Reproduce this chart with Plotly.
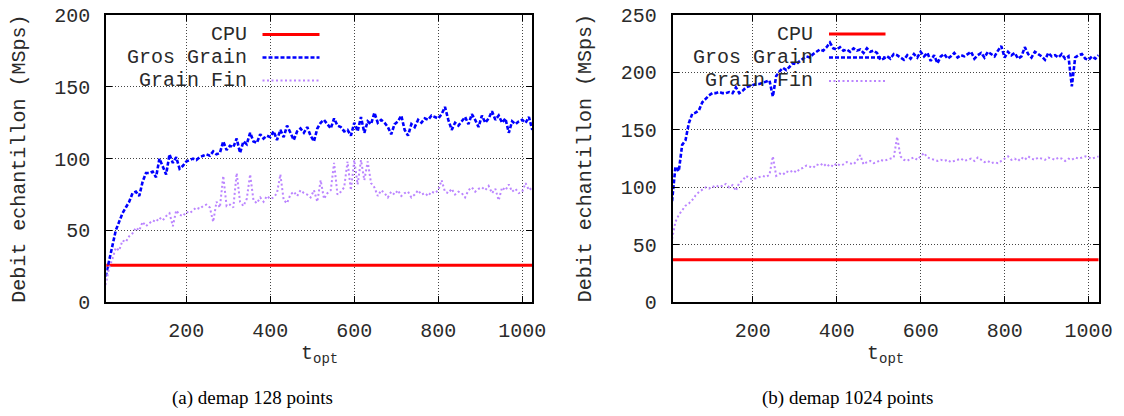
import plotly.graph_objects as go

# ---------------- data ----------------
t_step = 8  # t_opt sampled every 8, starting at 8

cpu_128 = 25.8
cpu_1024 = 37.0

gros_128 = [
    18, 28, 40, 50, 56, 62, 66, 70, 76, 77, 74, 84, 90, 90, 91, 87,
    100, 95, 89, 103, 97, 101, 93, 95, 98, 99, 100, 99, 101, 102, 103, 102,
    105, 103, 104, 112, 106, 109, 108, 114, 104, 112, 110, 118, 112, 111, 117, 114,
    116, 115, 119, 113, 120, 115, 123, 118, 113, 119, 121, 118, 122, 116, 112, 121,
    125, 127, 124, 121, 128, 123, 122, 119, 120, 116, 125, 119, 129, 118, 126, 124,
    132, 125, 127, 125, 122, 117, 124, 126, 130, 120, 116, 124, 122, 127, 125, 128,
    127, 130, 129, 128, 131, 136, 127, 120, 125, 123, 126, 129, 124, 131, 127, 122,
    130, 125, 128, 133, 127, 130, 125, 128, 118, 126, 124, 126, 127, 125, 129, 120,
]
fin_128 = [
    12, 24, 30, 38, 36, 43, 42, 46, 48, 52, 50, 56, 53, 55, 57, 56,
    59, 57, 60, 62, 53, 64, 61, 60, 63, 62, 64, 66, 65, 67, 68, 66,
    56, 70, 66, 88, 67, 68, 66, 90, 70, 67, 72, 89, 71, 69, 73, 70,
    74, 72, 73, 76, 89, 71, 69, 75, 77, 74, 78, 76, 75, 73, 78, 70,
    85, 72, 76, 78, 97, 75, 77, 80, 98, 78, 99, 82, 99, 85, 98, 83,
    80, 74, 78, 76, 73, 77, 75, 78, 74, 76, 77, 73, 75, 78, 75, 76,
    74, 77, 76, 78, 85, 77, 76, 79, 75, 77, 76, 73, 78, 80, 77, 79,
    80, 78, 81, 76, 79, 71, 80, 78, 82, 77, 79, 76, 77, 83, 78, 80,
]
gros_1024 = [
    88, 118, 114, 137, 141, 156, 164, 165, 167, 174, 177, 180, 182, 182, 183, 182,
    182, 183, 182, 187, 182, 184, 187, 188, 189, 190, 190, 191, 192, 193, 179, 197,
    201, 204, 202, 205, 208, 207, 210, 212, 214, 213, 216, 218, 220, 219, 222, 226,
    221, 220, 222, 219, 220, 218, 221, 219, 220, 217, 221, 218, 219, 217, 211, 212,
    214, 212, 216, 215, 213, 211, 215, 212, 216, 213, 218, 214, 217, 210, 215, 208,
    214, 216, 212, 214, 217, 213, 215, 214, 216, 218, 212, 215, 217, 213, 218, 216,
    214, 219, 223, 213, 218, 215, 217, 212, 214, 222, 216, 213, 218, 216, 214, 211,
    217, 214, 215, 213, 216, 212, 214, 188, 213, 215, 216, 212, 211, 214, 212, 215,
]
fin_1024 = [
    55, 70, 76, 80, 84, 86, 89, 93, 96, 98, 100, 99, 101, 100, 102, 101,
    103, 100, 102, 97, 104, 106, 110, 108, 107, 108, 109, 110, 109, 111, 127, 110,
    112, 111, 114, 113, 115, 113, 116, 117, 119, 118, 117, 120, 119, 121, 118, 120,
    118, 121, 119, 120, 122, 121, 120, 123, 128, 120, 122, 123, 121, 122, 124, 123,
    124, 125, 126, 144, 127, 124, 123, 125, 126, 124, 127, 130, 126, 125, 124, 123,
    124, 123, 124, 122, 123, 124, 125, 123, 124, 125, 123, 126, 124, 122, 123, 121,
    122, 121, 123, 125, 127, 124, 125, 123, 126, 124, 127, 125, 124, 126, 125, 124,
    126, 125, 124, 126, 125, 123, 125, 124, 126, 125, 126, 127, 126, 125, 126, 127,
]

series_names = ["CPU", "Gros Grain", "Grain Fin"]
x_ticks = [200, 400, 600, 800, 1000]
y_ticks_a = [0, 50, 100, 150, 200]
y_ticks_b = [0, 50, 100, 150, 200, 250]
captions = ["(a) demap 128 points", "(b) demap 1024 points"]
y_title = "Debit echantillon (MSps)"

t_opt = [t_step * (i + 1) for i in range(len(gros_128))]

# ---------------- style ----------------
W, H = 1124, 416
MONO = "Liberation Mono"
SERIF = "Liberation Serif"
TXT = "#2a2a2a"
RED, BLUE, PURPLE = "#ff0000", "#0000ff", "#bb85ff"
styles = [
    dict(color=RED, width=3),
    dict(color=BLUE, width=2.6, dash="4px,2px"),
    dict(color=PURPLE, width=2, dash="2px,2.5px"),
]


def px(x):
    return x / W


def py(y):
    return 1 - y / H


fig = go.Figure()
panels = [
    ("x", "y", cpu_128, gros_128, fin_128),
    ("x2", "y2", cpu_1024, gros_1024, fin_1024),
]
for xa, ya, cpu, gros, fin in panels:
    for name, vals, st in zip(series_names, [[cpu] * len(t_opt), gros, fin], styles):
        fig.add_trace(go.Scatter(x=t_opt, y=vals, mode="lines", name=name,
                                 line=st, xaxis=xa, yaxis=ya, showlegend=False))

axis_common = dict(
    showline=True, linecolor="black", linewidth=2, mirror="allticks",
    ticks="inside", ticklen=6, tickwidth=1.3, tickcolor="black",
    showgrid=True, gridcolor="#444", griddash="1px,2px", gridwidth=1,
    zeroline=False, automargin=False, tickfont=dict(family=MONO, size=20, color=TXT),
)

top, bottom = 15, 302.3
ydom = [py(bottom), py(top)]
xdom_a = [px(106.3), px(532.3)]
xdom_b = [px(672.7), px(1098.7)]
xrange = [9.5, 1024]

fig.update_layout(
    width=W, height=H, margin=dict(l=0, r=0, t=0, b=0, autoexpand=False),
    paper_bgcolor="white", plot_bgcolor="white",
    xaxis=dict(domain=xdom_a, range=xrange, tickvals=x_ticks, anchor="y",
               ticklabelstandoff=9, **axis_common),
    yaxis=dict(domain=ydom, range=[0, 200], tickvals=y_ticks_a, anchor="x",
               ticklabelstandoff=10, **axis_common),
    xaxis2=dict(domain=xdom_b, range=xrange, tickvals=x_ticks, anchor="y2",
                ticklabelstandoff=9, **axis_common),
    yaxis2=dict(domain=ydom, range=[0, 250], tickvals=y_ticks_b, anchor="x2",
                ticklabelstandoff=10, **axis_common),
)

shapes = []
annotations = []

# legend boxes (opaque, over grid but under data) and legend entries
legends = [
    dict(box=(116, 332, 15, 88), text_right=249, rows=[34.5, 57.5, 80.5], sample=(262.5, 319.5)),
    dict(box=(683, 898, 15, 91), text_right=815, rows=[34, 57.5, 81], sample=(829, 885.5)),
]
for lg in legends:
    x0, x1, y0, y1 = lg["box"]
    shapes.append(dict(type="rect", xref="paper", yref="paper",
                       x0=px(x0), x1=px(x1), y0=py(y1), y1=py(y0),
                       fillcolor="white", line=dict(width=0), layer="between"))
    for name, st, ry in zip(series_names, styles, lg["rows"]):
        annotations.append(dict(text=name, xref="paper", yref="paper",
                                x=px(lg["text_right"]), y=py(ry), xanchor="right", yanchor="middle",
                                showarrow=False, font=dict(family=MONO, size=20, color=TXT)))
        shapes.append(dict(type="line", xref="paper", yref="paper",
                           x0=px(lg["sample"][0]), x1=px(lg["sample"][1]), y0=py(ry), y1=py(ry),
                           line=st, layer="above"))

# axis titles and captions
for cx_plot, cx_ytitle, cx_cap, cap in [(319.3, 20, 252, captions[0]), (885.7, 585.5, 848, captions[1])]:
    annotations.append(dict(text=y_title, xref="paper", yref="paper",
                            x=px(cx_ytitle), y=py((top + bottom) / 2), textangle=-90,
                            xanchor="center", yanchor="middle", showarrow=False,
                            font=dict(family=MONO, size=20, color=TXT)))
    annotations.append(dict(text="t<sub>opt</sub>", xref="paper", yref="paper",
                            x=px(cx_plot), y=py(354), xanchor="center", yanchor="middle",
                            showarrow=False, font=dict(family=MONO, size=20, color=TXT)))
    annotations.append(dict(text=cap, xref="paper", yref="paper",
                            x=px(cx_cap), y=py(398), xanchor="center", yanchor="middle",
                            showarrow=False, font=dict(family=SERIF, size=19, color="black")))

fig.update_layout(shapes=shapes, annotations=annotations)
fig.write_html("out.html")
